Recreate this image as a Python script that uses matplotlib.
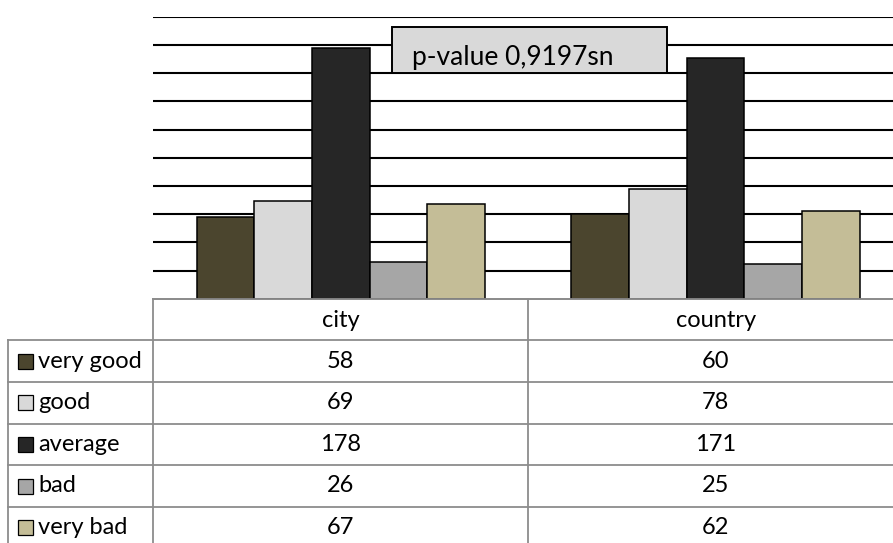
import numpy as np
import matplotlib.pyplot as plt
from matplotlib.patches import Rectangle

plt.rcParams['font.family'] = ['Lato', 'DejaVu Sans']

groups = ['city', 'country']
labels = ['very good', 'good', 'average', 'bad', 'very bad']
city = [58, 69, 178, 26, 67]
country = [60, 78, 171, 25, 62]
colors = ['#4b452e', '#d9d9d9', '#262626', '#a6a6a6', '#c4bd97']
note = 'p-value 0,9197sn'

W, H = 893, 543
fig = plt.figure(figsize=(W / 100, H / 100), dpi=100)

# layout in pixels, origin top-left
x0, cat_w = 153.3, 374.85
y_top, y_base = 16.7, 298.8
row_h = 41.6
tab_left = 8
grid_col = '#8c8c8c'


def frac(xa, ya, xb, yb):
    return [xa / W, 1 - yb / H, (xb - xa) / W, (yb - ya) / H]


ax = fig.add_axes(frac(x0, y_top, x0 + 2 * cat_w, y_base))
data = np.array([city, country]).T
n = len(labels)
bw = 1 / (n + 1.5)
x = np.arange(len(groups))
for i in range(n):
    ax.bar(x + (i - (n - 1) / 2) * bw, data[i], bw, color=colors[i],
           edgecolor='black', linewidth=1.1, zorder=3)
ax.set_xlim(-0.5, len(groups) - 0.5)
ax.set_ylim(0, 200)
ax.set_yticks(range(20, 201, 20))
ax.yaxis.grid(True, color='black', linewidth=1.5)
ax.set_axisbelow(True)
ax.tick_params(left=False, bottom=False, labelleft=False, labelbottom=False)
for s in ['top', 'right', 'left']:
    ax.spines[s].set_visible(False)
ax.spines['bottom'].set_color(grid_col)
ax.spines['bottom'].set_linewidth(1.3)

# overlay in pixel units for the note box and the data table
ov = fig.add_axes([0, 0, 1, 1])
ov.set_xlim(0, W)
ov.set_ylim(H, 0)
ov.axis('off')

ov.add_patch(Rectangle((391.7, 27), 275, 45.7, facecolor='#d9d9d9',
                       edgecolor='black', linewidth=1.4, zorder=5))
ov.text(411.5, 64.5, note, fontsize=19, va='baseline', ha='left', zorder=6)

x_right = x0 + 2 * cat_w
rows = [y_base + k * row_h for k in range(n + 2)]
# horizontal lines
ov.plot([x0, x_right], [rows[0], rows[0]], color=grid_col, lw=1.3)
for y in rows[1:]:
    ov.plot([tab_left, x_right], [y, y], color=grid_col, lw=1.3)
# vertical lines
for k in range(len(groups) + 1):
    xv = x0 + k * cat_w
    ov.plot([xv, xv], [rows[0], rows[-1]], color=grid_col, lw=1.3)
ov.plot([tab_left, tab_left], [rows[1], rows[-1]], color=grid_col, lw=1.3)

for j, g in enumerate(groups):
    ov.text(x0 + (j + 0.5) * cat_w, (rows[0] + rows[1]) / 2 + 1, g,
            fontsize=17, ha='center', va='center')
for i in range(n):
    yc = (rows[i + 1] + rows[i + 2]) / 2
    ov.add_patch(Rectangle((17.5, yc - 7.5), 15, 15, facecolor=colors[i],
                           edgecolor='black', linewidth=0.9))
    ov.text(38, yc, labels[i], fontsize=17, ha='left', va='center')
    for j in range(len(groups)):
        ov.text(x0 + (j + 0.5) * cat_w, yc, str(data[i, j]),
                fontsize=17, ha='center', va='center')

fig.savefig('out.png', dpi=100)
